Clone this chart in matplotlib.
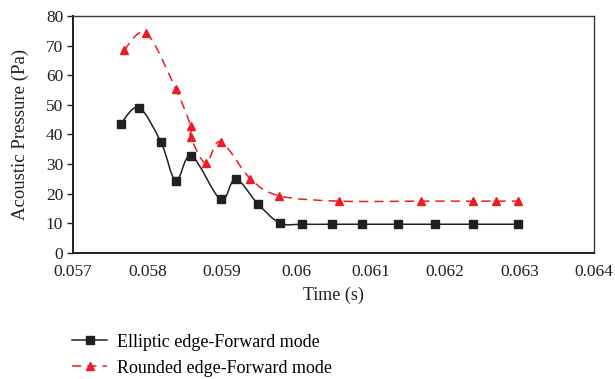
import matplotlib.pyplot as plt
from matplotlib.path import Path
from matplotlib.patches import PathPatch
from matplotlib.lines import Line2D

plt.rcParams['font.family'] = ['Liberation Serif', 'DejaVu Serif']

# Elliptic edge - Forward mode
t_elliptic = [0.05764, 0.057885, 0.058184, 0.058381, 0.058591, 0.058984, 0.059185,
              0.05948, 0.059779, 0.060083, 0.060476, 0.060878, 0.061374, 0.06187,
              0.06237, 0.062975]
p_elliptic = [43.5, 49.1, 37.3, 24.4, 32.8, 18.1, 25.0, 16.7, 10.1, 9.7, 9.7, 9.7,
              9.7, 9.7, 9.7, 9.7]

# Rounded edge - Forward mode
t_rounded = [0.057684, 0.057983, 0.058381, 0.058582, 0.058582, 0.058783, 0.058984,
             0.059382, 0.059771, 0.060579, 0.061678, 0.062375, 0.06268, 0.062975]
p_rounded = [68.4, 74.2, 55.4, 42.7, 39.2, 30.3, 37.6, 25.1, 19.3, 17.5, 17.5, 17.5,
             17.5, 17.5]

black = '#231f20'
red = '#ed1c24'


def smooth_path(ax, xs, ys, **kw):
    # Excel-like smoothed line: Catmull-Rom segments as cubic Bezier in display space
    pts = ax.transData.transform(list(zip(xs, ys)))
    verts = [pts[0]]
    codes = [Path.MOVETO]
    n = len(pts)
    for i in range(n - 1):
        p0 = pts[i - 1] if i > 0 else pts[i]
        p1 = pts[i]
        p2 = pts[i + 1]
        p3 = pts[i + 2] if i + 2 < n else pts[i + 1]
        c1 = p1 + (p2 - p0) / 6.0
        c2 = p2 - (p3 - p1) / 6.0
        verts += [c1, c2, p2]
        codes += [Path.CURVE4] * 3
    path = Path(verts, codes)
    patch = PathPatch(path, transform=None, fill=False, **kw)
    ax.add_artist(patch)


fig = plt.figure(figsize=(6.15, 3.79), dpi=100)
ax = fig.add_axes([0.1187, 0.3325, 0.847, 0.6253])
ax.set_xlim(0.057, 0.064)
ax.set_ylim(0, 80)
ax.set_xticks([0.057, 0.058, 0.059, 0.06, 0.061, 0.062, 0.063, 0.064])
ax.set_xticklabels(['0.057', '0.058', '0.059', '0.06', '0.061', '0.062', '0.063', '0.064'])
ax.set_yticks(range(0, 81, 10))
ax.tick_params(axis='x', length=0, pad=8, labelsize=12.5, colors='#231f20')
ax.tick_params(axis='y', length=4, width=1, direction='out', pad=3, labelsize=12.5,
               colors='#231f20')
for s in ['left', 'bottom']:
    ax.spines[s].set_linewidth(1.4)
    ax.spines[s].set_color('#231f20')
for s in ['top', 'right']:
    ax.spines[s].set_linewidth(1.0)
    ax.spines[s].set_color('#3a3a3a')

fig.canvas.draw()
smooth_path(ax, t_elliptic, p_elliptic, edgecolor=black, linewidth=1.1)
smooth_path(ax, t_rounded, p_rounded, edgecolor=red, linewidth=1.1,
            linestyle=(0, (6, 4)))
ax.plot(t_elliptic, p_elliptic, linestyle='none', marker='s', markersize=5.5,
        color=black)
ax.plot(t_rounded, p_rounded, linestyle='none', marker='^', markersize=6, color=red)

ax.set_xlabel('Time (s)', fontsize=13, color='#231f20', labelpad=5)
ax.set_ylabel('Acoustic Pressure (Pa)', fontsize=13.5, color='#231f20', labelpad=12)

handles = [
    Line2D([], [], color=black, marker='s', markersize=5.5, linewidth=1.1),
    Line2D([], [], color=red, marker='^', markersize=6, linewidth=1.1,
           linestyle=(0, (6, 4))),
]
fig.legend(handles, ['Elliptic edge-Forward mode', 'Rounded edge-Forward mode'],
           loc='upper left', bbox_to_anchor=(0.117, 0.12), frameon=False,
           fontsize=13, handlelength=1.95, handletextpad=0.55, labelspacing=0.5,
           borderaxespad=0, borderpad=0)

fig.savefig('out.png', dpi=100)
